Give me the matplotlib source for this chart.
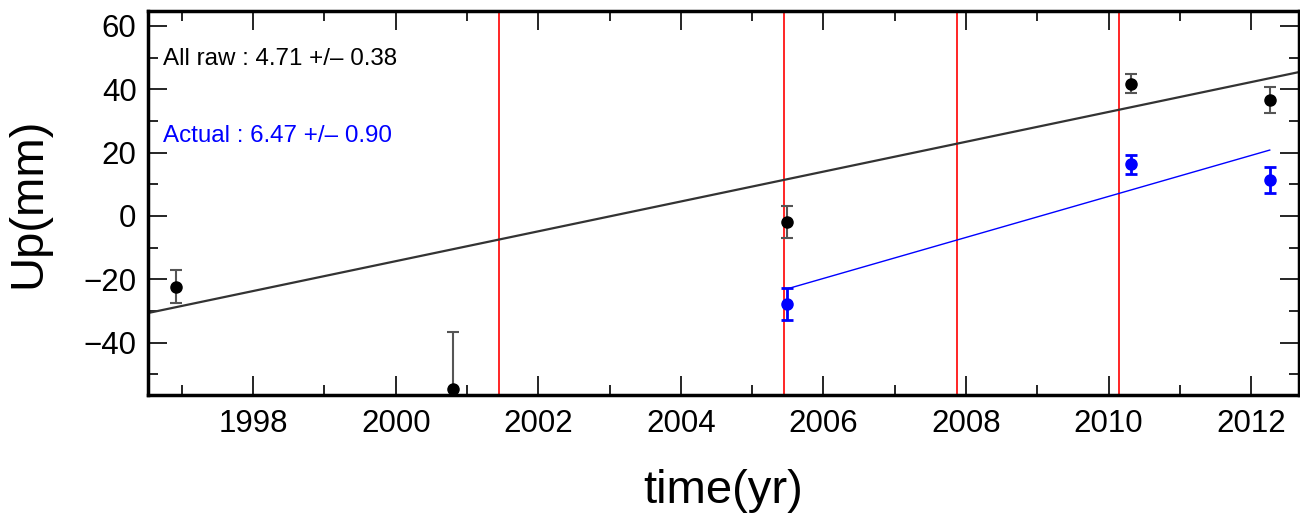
import numpy as np
import matplotlib.pyplot as plt
from matplotlib.ticker import MultipleLocator

plt.rcParams['font.family'] = ['Liberation Sans', 'DejaVu Sans']

# raw series (black)
raw_t = [1996.92, 2000.80, 2005.49, 2010.31, 2012.26]
raw_up = [-22.3, -54.7, -1.9, 41.7, 36.6]
raw_err = [5.2, 18.2, 5.0, 3.0, 4.0]

# actual series (blue)
act_t = [2005.49, 2010.31, 2012.26]
act_up = [-27.8, 16.4, 11.4]
act_err = [5.0, 3.0, 4.0]

# linear fits: slope (mm/yr), value at reference epoch
ref_t = 2005.49
raw_slope, raw_ref = 4.71, 11.6
act_slope, act_ref = 6.47, -23.0

# vertical markers (events)
events = [2001.45, 2005.45, 2007.87, 2010.14]

xmin, xmax = 1996.52, 2012.67
ymin, ymax = -56.5, 64.7

fig = plt.figure(figsize=(13, 5.13), dpi=100)
ax = fig.add_axes([0.1136, 0.23, 0.8856, 0.7486])

for e in events:
    ax.axvline(e, color='red', lw=1.2, zorder=1)

tt = np.array([xmin, xmax])
ax.plot(tt, raw_ref + raw_slope * (tt - ref_t), color='#333333', lw=1.6, zorder=2)
ta = np.array([act_t[0], act_t[-1]])
ax.plot(ta, act_ref + act_slope * (ta - ref_t), color='blue', lw=1.0, zorder=2)

ax.errorbar(raw_t, raw_up, yerr=raw_err, fmt='o', color='black', ms=8,
            ecolor='#555555', elinewidth=1.5, capsize=4, capthick=1.5, zorder=3)
ax.errorbar(act_t, act_up, yerr=act_err, fmt='o', color='blue', ms=8,
            ecolor='blue', elinewidth=2, capsize=4, capthick=2, zorder=3)

ax.text(0.013, 0.875, 'All raw : 4.71 +/\u2013 0.38', transform=ax.transAxes,
        fontsize=17.4, color='black', va='center', ha='left')
ax.text(0.013, 0.675, 'Actual : 6.47 +/\u2013 0.90', transform=ax.transAxes,
        fontsize=17.4, color='blue', va='center', ha='left')

ax.set_xlim(xmin, xmax)
ax.set_ylim(ymin, ymax)
ax.xaxis.set_major_locator(MultipleLocator(2))
ax.xaxis.set_minor_locator(MultipleLocator(1))
ax.yaxis.set_major_locator(MultipleLocator(20))
ax.yaxis.set_minor_locator(MultipleLocator(10))
ax.tick_params(which='both', direction='in', top=True, right=True, labelsize=22.5)
ax.tick_params(axis='x', pad=10)
ax.tick_params(axis='y', pad=8)
ax.tick_params(which='major', length=14, width=1.2)
ax.tick_params(which='minor', length=7, width=1.2)
for s in ax.spines.values():
    s.set_linewidth(2.5)

ax.set_xlabel('time(yr)', fontsize=34, labelpad=22)
ax.set_ylabel('Up(mm)', fontsize=34, labelpad=24)

fig.savefig('out.png', dpi=100)
